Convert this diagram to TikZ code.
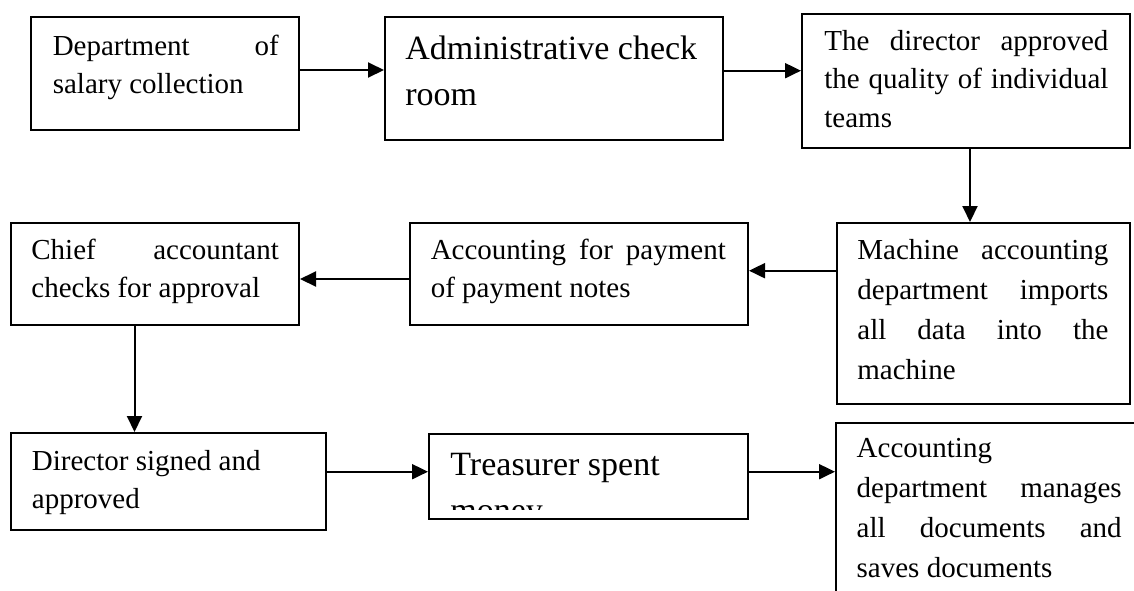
\documentclass[tikz,border=0pt]{standalone}
\usepackage{fontspec}
\setmainfont{Liberation Serif}
\usetikzlibrary{arrows.meta}
\tikzset{
  boxst/.style={draw, line width=1pt, inner sep=0pt, anchor=north west},
  txt/.style={anchor=north west, inner sep=0pt, align=left, font=\fontsize{14.5pt}{19.25pt}\selectfont},
  txtw/.style={txt, font=\fontsize{14.5pt}{20pt}\selectfont},
  txtbig/.style={txt, font=\fontsize{17pt}{23pt}\selectfont},
  arr/.style={line width=1pt, -{Triangle[length=8pt,width=7.5pt]}},
}
\newcommand\mybox[5]{\node[boxst, minimum width={(#4-#2)*0.5pt}, minimum height={(#5-#3)*0.5pt}] (#1) at (#2,#3) {};}
\newcommand\fs{\rule{0pt}{0.9em}}
\newcommand\jl[2]{\makebox[#1][s]{#2}}
\begin{document}
\begin{tikzpicture}[x=0.5pt, y=-0.5pt]
\useasboundingbox (0,0) rectangle (1134,590);
\clip (0,0) rectangle (1134,590);
\fill[white] (0,0) rectangle (1134,590);

% boxes
\mybox{b1}{30}{16}{298}{129}
\mybox{b2}{384}{16}{722}{139}
\mybox{b3}{801}{13}{1129}{147}
\mybox{b4}{836}{222}{1129}{403}
\mybox{b5}{409}{222}{747}{324}
\mybox{b6}{10}{222}{298}{324}
\mybox{b7}{10}{432}{325}{529}
\mybox{b8}{428}{433}{747}{518}
\mybox{b9}{835}{422}{1170}{640}

% texts
\node[txt] (t1) at (52.4,28.9) {\fs\jl{113pt}{Department of}\\salary collection};
\node[txtbig] (t2) at (405,28.4) {\fs Administrative check\\room};
\node[txt] (t3) at (824,23.9) {\fs\jl{142pt}{The director approved}\\\jl{142pt}{the quality of individual}\\teams};
\node[txtw] (t4) at (857,233) {\fs\jl{125.5pt}{Machine accounting}\\\jl{125.5pt}{department imports}\\\jl{125.5pt}{all data into the}\\machine};
\node[txt] (t5) at (430.4,232.9) {\fs\jl{147.5pt}{Accounting for payment}\\of payment notes};
\node[txt] (t6) at (31,232.9) {\fs\jl{123.75pt}{Chief accountant}\\checks for approval};
\node[txt] (t7) at (31.5,443.9) {\fs Director signed and\\approved};
\begin{scope}
\clip (428,433) rectangle (747,509);
\node[txtbig] (t8) at (450,444.4) {\fs Treasurer spent\\money};
\end{scope}
\node[txtw] (t9) at (856.3,430.6) {\fs Accounting\\\jl{132.5pt}{department manages}\\\jl{132.5pt}{all documents and}\\saves documents};

% connectors
\draw[arr] (b1.east |- 0,70) -- (b2.west |- 0,70);
\draw[arr] (b2.east |- 0,70.7) -- (b3.west |- 0,70.7);
\draw[arr] (b3.south -| 970,0) -- (b4.north -| 970,0);
\draw[arr] (b4.west |- 0,270.7) -- (b5.east |- 0,270.7);
\draw[arr] (b5.west |- 0,279) -- (b6.east |- 0,279);
\draw[arr] (b6.south -| 134.5,0) -- (b7.north -| 134.5,0);
\draw[arr] (b7.east |- 0,471.7) -- (b8.west |- 0,471.7);
\draw[arr] (b8.east |- 0,471.7) -- (b9.west |- 0,471.7);
\end{tikzpicture}
\end{document}
